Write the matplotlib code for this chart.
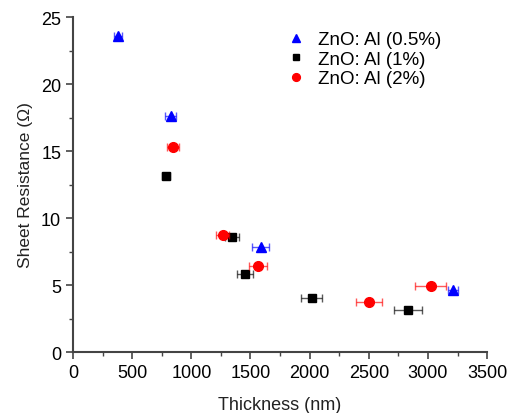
import matplotlib.pyplot as plt
from matplotlib.ticker import MultipleLocator

plt.rcParams["font.family"] = ["Liberation Sans", "DejaVu Sans"]

# ZnO: Al (0.5%)
thick_05 = [380, 826, 1585, 3212]
res_05 = [23.6, 17.6, 7.8, 4.6]
err_05 = [30, 45, 68, 42]

# ZnO: Al (1%)
thick_1 = [783, 1345, 1451, 2017, 2830]
res_1 = [13.1, 8.6, 5.8, 4.0, 3.1]
err_1 = [35, 59, 68, 89, 118]

# ZnO: Al (2%)
thick_2 = [843, 1265, 1565, 2500, 3025]
res_2 = [15.3, 8.7, 6.4, 3.7, 4.9]
err_2 = [50, 55, 76, 110, 131]

fig = plt.figure(figsize=(5.16, 4.14), dpi=100)
ax = fig.add_axes([0.1415, 0.1473, 0.8025, 0.8092])

series = [
    (thick_05, res_05, err_05, "^", "blue", "ZnO: Al (0.5%)", 7),
    (thick_1, res_1, err_1, "s", "black", "ZnO: Al (1%)", 6),
    (thick_2, res_2, err_2, "o", "red", "ZnO: Al (2%)", 7),
]

for x, y, xe, m, c, lab, ms in series:
    ax.errorbar(x, y, xerr=xe, fmt="none", ecolor=c, alpha=0.65,
                elinewidth=1.0, capsize=3, capthick=1.0)
    ax.plot(x, y, linestyle="none", marker=m, color=c, markersize=ms,
            label=lab)

ax.set_xlim(0, 3500)
ax.set_ylim(0, 25)
ax.xaxis.set_major_locator(MultipleLocator(500))
ax.xaxis.set_minor_locator(MultipleLocator(250))
ax.yaxis.set_major_locator(MultipleLocator(5))
ax.yaxis.set_minor_locator(MultipleLocator(2.5))

ax.spines["top"].set_visible(False)
ax.spines["right"].set_visible(False)
for s in ("left", "bottom"):
    ax.spines[s].set_color("#444444")
    ax.spines[s].set_linewidth(1.5)

ax.tick_params(which="major", direction="out", length=5, width=1.2,
               colors="#444444", labelcolor="black", labelsize=13)
ax.tick_params(which="minor", direction="out", length=3, width=1.0,
               colors="#444444")

ax.set_xlabel("Thickness (nm)", fontsize=13, color="#222222", labelpad=11)
ax.set_ylabel("Sheet Resistance (Ω)", fontsize=12.5, color="#222222",
              labelpad=6)

ax.legend(loc="upper left", bbox_to_anchor=(0.47, 1.008), frameon=False,
          fontsize=13.5, handletextpad=0.6, labelspacing=0.13,
          handlelength=1.2, markerscale=0.8)

plt.savefig("out.png", dpi=100)
plt.close()
